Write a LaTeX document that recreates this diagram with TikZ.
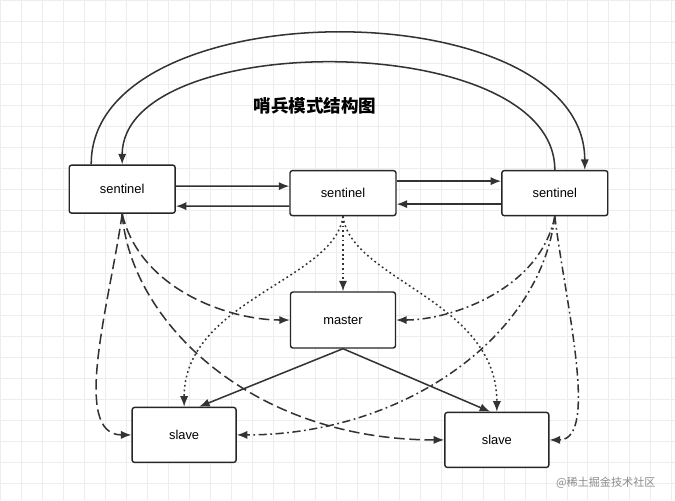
\documentclass[tikz,border=0pt]{standalone}
\usepackage{fontspec}
\setmainfont{Liberation Sans}
\newfontfamily\cjk{Noto Sans CJK SC}
\usetikzlibrary{arrows.meta}
\begin{document}
\begin{tikzpicture}[x=0.03cm,y=-0.03cm,
  box/.style={draw=black!85,line width=1.2pt,rounded corners=2pt,fill=white,inner sep=0pt,font=\fontsize{11}{13}\selectfont},
  con/.style={draw=black!80,line width=1.3pt,-{Latex[length=9pt,width=7pt]}},
  dsh/.style={con,dash pattern=on 9pt off 4pt},
  dot/.style={con,dash pattern=on 1.5pt off 2.5pt},
  dd/.style={con,dash pattern=on 7pt off 3pt on 1.5pt off 3pt}]
\fill[white] (0,0) rectangle (675,500);
\foreach \i in {0,21,...,675} \draw[black!7,line width=0.5pt] (\i,0) -- (\i,500);
\foreach \j in {0,21,...,500} \draw[black!7,line width=0.5pt] (0,\j) -- (675,\j);
\useasboundingbox (0,0) rectangle (675,500);
\node[box,minimum width=3.18cm,minimum height=1.44cm] (s1) at (122,189) {sentinel};
\node[box,minimum width=3.18cm,minimum height=1.35cm] (s2) at (343,193) {sentinel};
\node[box,minimum width=3.18cm,minimum height=1.35cm] (s3) at (555,193) {sentinel};
\node[box,minimum width=3.15cm,minimum height=1.68cm] (m) at (343,320) {master};
\node[box,minimum width=3.12cm,minimum height=1.65cm] (v1) at (184,435) {slave};
\node[box,minimum width=3.12cm,minimum height=1.65cm] (v2) at (497,440) {slave};
\node[font=\cjk\bfseries\fontsize{15}{17}\selectfont] (t) at (315,106) {哨兵模式结构图};
\node[font=\cjk\fontsize{9.5}{11}\selectfont,text=black!45] (w) at (606,483) {@稀土掘金技术社区};
% top arcs
\draw[con] ([xshift=-0.93cm]s1.north) .. controls (90,-12) and (585,-12) .. ([xshift=0.9cm]s3.north);
\draw[con] (s3.north) .. controls (555,28) and (122,28) .. (s1.north);
% horizontals
\draw[con] ([yshift=0.09cm]s1.east) -- ([yshift=0.21cm]s2.west);
\draw[con] ([yshift=-0.39cm]s2.west) -- ([yshift=-0.51cm]s1.east);
\draw[con] ([yshift=0.36cm]s2.east) -- ([yshift=0.36cm]s3.west);
\draw[con] ([yshift=-0.33cm]s3.west) -- ([yshift=-0.33cm]s2.east);
% dotted from s2
\draw[dot] (s2.south) -- (m.north);
\draw[dot] (s2.south) .. controls (335,280) and (184,300) .. (v1.north);
\draw[dot] (s2.south) .. controls (351,280) and (497,300) .. (v2.north);
% dashed from s1
\draw[dsh] (s1.south) .. controls (140,290) and (230,320) .. (m.west);
\draw[dsh] (s1.south) .. controls (110,300) and (70,435) .. (v1.west);
\draw[dsh] (s1.south) .. controls (130,320) and (250,440) .. (v2.west);
% dash-dot from s3
\draw[dd] (s3.south) .. controls (540,290) and (450,320) .. (m.east);
\draw[dd] (s3.south) .. controls (540,340) and (400,435) .. (v1.east);
\draw[dd] (s3.south) .. controls (565,300) and (600,440) .. (v2.east);
% master to slaves
\draw[con] (m.south) -- ([xshift=0.45cm]v1.north);
\draw[con] (m.south) -- ([xshift=-0.2cm]v2.north);
\end{tikzpicture}
\end{document}
